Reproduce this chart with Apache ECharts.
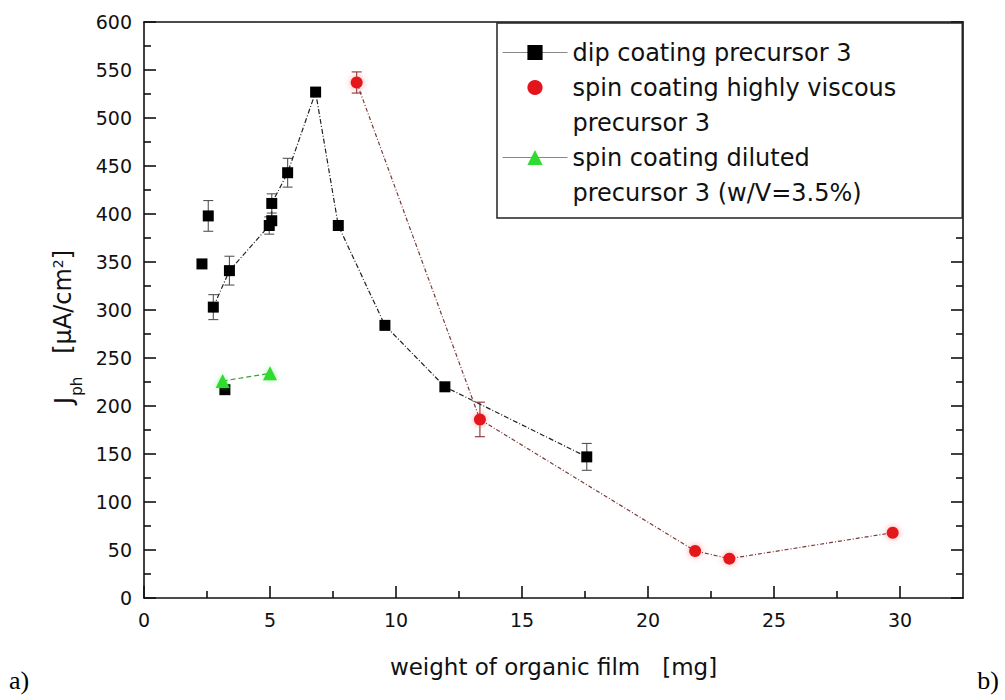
<!DOCTYPE html>
<html>
<head>
<meta charset="utf-8">
<script src="https://cdn.jsdelivr.net/npm/echarts@6/dist/echarts.min.js"></script>
<style>
  html, body { margin: 0; padding: 0; background: #fff; }
  #chart { width: 1005px; height: 700px; }
</style>
</head>
<body>
<div id="chart"></div>
<script>
// Dip coating, precursor 3: samples joined by the trend line (mg, µA/cm²)
const dipLineX   = [2.75, 3.39, 4.97, 5.07, 5.07, 5.70, 6.81, 7.71, 9.56, 11.94, 17.57];
const dipLineY   = [303, 341, 388, 393, 411, 443, 527, 388, 284, 220, 147];
const dipLineErr = [13, 15, 9, 0, 10, 15, 0, 0, 0, 0, 14];
// Dip coating samples shown without a connecting line
const dipLooseX   = [2.30, 2.55, 3.21];
const dipLooseY   = [348, 398, 217];
const dipLooseErr = [0, 16, 0];
// Spin coating, highly viscous precursor 3
const viscousX   = [8.44, 13.33, 21.87, 23.23, 29.71];
const viscousY   = [537, 186, 49, 41, 68];
const viscousErr = [11, 18, 0, 0, 0];
// Spin coating, diluted precursor 3 (w/V = 3.5%)
const dilutedX = [3.12, 5.00];
const dilutedY = [226, 234];
// Minor tick positions on the weight axis
const xMinorTicks = [2.5, 7.5, 12.5, 17.5, 22.5, 27.5];

const NAME_DIP = 'dip coating precursor 3';
const NAME_VISCOUS = 'spin coating highly viscous\nprecursor 3';
const NAME_DILUTED = 'spin coating diluted\nprecursor 3 (w/V=3.5%)';

const FONT = 'DejaVu Sans';
const AXIS_COLOR = '#111';
const axisLineStyle = { color: AXIS_COLOR, width: 1.6 };

const pairs = (xs, ys) => xs.map((x, i) => [x, ys[i]]);

// Vertical error bars with short caps
function errorBars(xs, ys, errs, color) {
  return {
    type: 'custom',
    silent: true,
    z: 1,
    data: xs.map((x, i) => [x, ys[i], errs[i]]).filter(d => d[2] > 0),
    renderItem(params, api) {
      const x = api.value(0), y = api.value(1), e = api.value(2);
      const top = api.coord([x, y + e]);
      const bot = api.coord([x, y - e]);
      const cap = 5;
      const style = { stroke: color, lineWidth: 1.1 };
      return {
        type: 'group',
        children: [
          { type: 'line', shape: { x1: top[0], y1: top[1], x2: bot[0], y2: bot[1] }, style },
          { type: 'line', shape: { x1: top[0] - cap, y1: top[1], x2: top[0] + cap, y2: top[1] }, style },
          { type: 'line', shape: { x1: bot[0] - cap, y1: bot[1], x2: bot[0] + cap, y2: bot[1] }, style }
        ]
      };
    }
  };
}

const chart = echarts.init(document.getElementById('chart'), null, { renderer: 'svg' });

chart.setOption({
  animation: false,
  backgroundColor: '#fff',
  grid: { left: 144, top: 22, width: 819, height: 576, containLabel: false },
  xAxis: [
    {
      type: 'value', position: 'bottom', min: 0, max: 32.5, interval: 5,
      axisLine: { show: true, onZero: false, lineStyle: axisLineStyle },
      axisTick: { show: true, inside: true, length: 12, lineStyle: axisLineStyle },
      axisLabel: { showMaxLabel: false, margin: 12, color: AXIS_COLOR, fontSize: 19, fontFamily: FONT },
      splitLine: { show: false },
      name: 'weight of organic film   [mg]',
      nameLocation: 'middle', nameGap: 57,
      nameTextStyle: { color: AXIS_COLOR, fontSize: 23, fontFamily: FONT }
    },
    {
      type: 'value', position: 'bottom', min: 0, max: 32.5,
      axisLine: { show: false },
      axisTick: { show: true, inside: true, length: 7, customValues: xMinorTicks, lineStyle: axisLineStyle },
      axisLabel: { show: false },
      splitLine: { show: false }
    },
    {
      type: 'value', position: 'top', min: 0, max: 32.5,
      axisLine: { show: true, onZero: false, lineStyle: axisLineStyle },
      axisTick: { show: false }, axisLabel: { show: false }, splitLine: { show: false }
    }
  ],
  yAxis: [
    {
      type: 'value', position: 'left', min: 0, max: 600, interval: 50,
      axisLine: { show: true, onZero: false, lineStyle: axisLineStyle },
      axisTick: { show: true, inside: true, length: 12, lineStyle: axisLineStyle },
      minorTick: { show: true, splitNumber: 2, length: 7, lineStyle: axisLineStyle },
      axisLabel: { margin: 12, color: AXIS_COLOR, fontSize: 19, fontFamily: FONT },
      splitLine: { show: false }, minorSplitLine: { show: false },
      name: '{j|J}{s|ph}{g|   }{u|[μA/cm}{p|2}{u|]}',
      nameLocation: 'middle', nameGap: 58,
      nameTextStyle: {
        color: AXIS_COLOR, fontFamily: FONT, padding: [0, 34, 0, 0],
        rich: {
          j: { fontSize: 25, lineHeight: 25, verticalAlign: 'top', fontFamily: FONT, color: AXIS_COLOR },
          s: { fontSize: 15, lineHeight: 15, verticalAlign: 'top', padding: [19, 0, 0, 1], fontFamily: FONT, color: AXIS_COLOR },
          g: { fontSize: 24, lineHeight: 24, verticalAlign: 'top', fontFamily: FONT },
          u: { fontSize: 24, lineHeight: 24, verticalAlign: 'top', fontFamily: FONT, color: AXIS_COLOR },
          p: { fontSize: 14, lineHeight: 14, verticalAlign: 'top', fontFamily: FONT, color: AXIS_COLOR }
        }
      }
    },
    {
      type: 'value', position: 'right', min: 0, max: 600, interval: 50,
      axisLine: { show: true, onZero: false, lineStyle: axisLineStyle },
      axisTick: { show: true, inside: true, length: 12, lineStyle: axisLineStyle },
      minorTick: { show: true, splitNumber: 2, length: 7, lineStyle: axisLineStyle },
      axisLabel: { show: false },
      splitLine: { show: false }, minorSplitLine: { show: false }
    }
  ],
  legend: {
    orient: 'vertical', left: 497, top: 23,
    itemWidth: 65, itemHeight: 19, itemGap: -35,
    padding: [12, 66, 8, 5],
    borderColor: '#222', borderWidth: 1.5, backgroundColor: '#fff',
    selectedMode: false,
    textStyle: { color: AXIS_COLOR, fontSize: 24, lineHeight: 35, fontFamily: FONT },
    lineStyle: { color: '#888', width: 1, type: 'solid' },
    // a blank first line keeps the marker beside the first line of wrapped names
    formatter: name => (name.indexOf('\n') >= 0 ? '\n' + name : name),
    data: [
      { name: NAME_DIP },
      { name: NAME_VISCOUS, lineStyle: { opacity: 0 } },
      { name: NAME_DILUTED }
    ]
  },
  graphic: [
    { type: 'text', left: 9, top: 667, style: { text: 'a)', font: '26px "Liberation Serif"', fill: '#000' } },
    { type: 'text', right: 6, top: 667, style: { text: 'b)', font: '26px "Liberation Serif"', fill: '#000' } }
  ],
  series: [
    errorBars(dipLineX, dipLineY, dipLineErr, '#555'),
    errorBars(dipLooseX, dipLooseY, dipLooseErr, '#555'),
    errorBars(viscousX, viscousY, viscousErr, '#8a3030'),
    {
      name: NAME_DIP, type: 'line', z: 3,
      data: pairs(dipLineX, dipLineY),
      symbol: 'rect', symbolSize: 11,
      itemStyle: { color: '#000', opacity: 1 },
      lineStyle: { color: '#222', width: 1.2, type: [5, 2, 1, 2] }
    },
    {
      name: 'dip coating precursor 3 (single samples)', type: 'scatter', z: 3,
      data: pairs(dipLooseX, dipLooseY),
      symbol: 'rect', symbolSize: 11,
      itemStyle: { color: '#000', opacity: 1 }
    },
    {
      name: NAME_VISCOUS, type: 'line', z: 3,
      data: pairs(viscousX, viscousY),
      symbol: 'circle', symbolSize: 12,
      itemStyle: { color: '#e3141c', shadowBlur: 6, shadowColor: 'rgba(255,80,80,0.55)' },
      lineStyle: { color: '#7a3a3a', width: 1.2, type: [4, 2, 1, 2] }
    },
    {
      name: NAME_DILUTED, type: 'line', z: 4,
      data: pairs(dilutedX, dilutedY),
      symbol: 'triangle', symbolSize: 14,
      itemStyle: { color: '#2edb2e', shadowBlur: 5, shadowColor: 'rgba(60,220,60,0.5)' },
      lineStyle: { color: '#3aa03a', width: 1.2, type: [5, 3] }
    }
  ]
});
</script>
</body>
</html>
